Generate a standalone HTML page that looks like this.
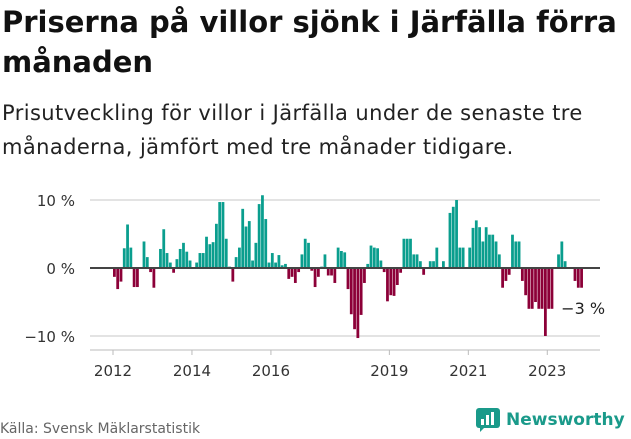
<!DOCTYPE html>
<html><head><meta charset="utf-8"><style>
body{margin:0;width:631px;height:439px;background:#fff;font-family:"Liberation Sans","DejaVu Sans",sans-serif;overflow:hidden;position:relative}
h1{position:absolute;left:2px;top:2px;margin:0;font-size:29px;line-height:40px;font-weight:bold;color:#111;width:629px;font-family:"DejaVu Sans","Liberation Sans",sans-serif;letter-spacing:0}
.sub{position:absolute;left:2px;top:96px;font-size:21px;line-height:34px;color:#222;width:629px;font-family:"DejaVu Sans","Liberation Sans",sans-serif;letter-spacing:0.4px}
.src{position:absolute;left:0;top:421px;font-size:14px;color:#666;font-family:"DejaVu Sans",sans-serif}
.logo{position:absolute;left:476px;top:408px;font-size:17px;font-weight:bold;color:#1a9a8a;font-family:"DejaVu Sans",sans-serif;display:flex;align-items:center;gap:6px}
</style></head><body>
<h1>Priserna på villor sjönk i Järfälla förra månaden</h1>
<div class="sub">Prisutveckling för villor i Järfälla under de senaste tre månaderna, jämfört med tre månader tidigare.</div>
<svg id="chart" width="631" height="439" style="position:absolute;left:0;top:0"></svg>
<div class="src">Källa: Svensk Mäklarstatistik</div>
<div class="logo"><svg width="24" height="24"><rect x="0" y="0" width="24" height="20" rx="3" fill="#1a9a8a"/><path d="M4 24 L4 18 L10 18 Z" fill="#1a9a8a"/><rect x="5" y="11" width="3" height="6" fill="#fff"/><rect x="10" y="7" width="3" height="10" fill="#fff"/><rect x="15" y="4" width="3" height="13" fill="#fff"/></svg><span>Newsworthy</span></div>
<script>
const values=[-1.3,-3.1,-2,2.9,6.4,3,-2.8,-2.8,0,3.9,1.6,-0.6,-2.9,0,2.8,5.7,2.2,0.8,-0.7,1.3,2.8,3.7,2.4,1.1,0,0.8,2.2,2.2,4.6,3.5,3.8,6.5,9.7,9.7,4.3,0.2,-2,1.6,3,8.7,6.1,6.9,1.1,3.7,9.4,10.7,7.2,0.8,2.2,0.8,1.9,0.4,0.6,-1.6,-1.3,-2.2,-0.6,2,4.3,3.7,-0.4,-2.8,-1.3,0.2,2,-1.1,-1.1,-2.2,3,2.5,2.3,-3.1,-6.8,-9,-10.3,-6.9,-2.2,0.6,3.3,3,2.9,1.1,-0.6,-4.9,-4,-4.1,-2.5,-0.7,4.3,4.3,4.3,2,2,1,-1,0,1,1,3,0,1,0,8.1,9,10,3,3,0,3,5.9,7,6,3.9,6,4.9,4.9,3.9,2,-2.9,-1.9,-1,4.9,3.9,3.9,-1.9,-4,-6,-6,-5,-6,-6,-10,-6,-6,0,2,3.9,1,0,0,-1.9,-2.9,-2.9];
const yTicks=[10,0,-10];
const yTickLabels=["10 %","0 %","−10 %"];
const xTickYears=[2012,2014,2016,2019,2021,2023];
const startYear=2012;
const lastLabel="−3 %";
const svg=document.getElementById('chart');
const NS="http://www.w3.org/2000/svg";
const x0=113,step=3.29,L=90,R=600;
const y=v=>268-v*6.8;
const x=i=>x0+i*step;
function mk(t,a){const e=document.createElementNS(NS,t);for(const k in a)e.setAttribute(k,a[k]);svg.appendChild(e);return e;}
yTicks.forEach((v,k)=>{
 if(v!==0){const g=mk('line',{x1:L,x2:R,y1:y(v),y2:y(v),stroke:'#e3e3e3','stroke-width':2});
 
 }
 const t=mk('text',{x:75,y:y(v)+6,'text-anchor':'end','font-size':15,fill:'#333','font-family':'DejaVu Sans, sans-serif'});
 t.textContent=yTickLabels[k];
 
 
});
const ax=mk('line',{x1:L,x2:R,y1:350,y2:350,stroke:'#ddd','stroke-width':2});


xTickYears.forEach(yr=>{
 const xi=x((yr-startYear)*12);
 const tk=mk('line',{x1:xi,x2:xi,y1:350,y2:355,stroke:'#bbb'});
 
 
 const t=mk('text',{x:xi,y:376,'text-anchor':'middle','font-size':15,fill:'#333','font-family':'DejaVu Sans, sans-serif'});
 t.textContent=yr;
 
 
});
values.forEach((v,i)=>{
 if(v===0)return;
 const b=mk('rect',{x:x(i),width:step-0.5,y:Math.min(y(v),y(0)),height:Math.abs(y(v)-y(0)),fill:v>0?'#0a9e8e':'#8c0038'});
 
 
});
const z=mk('line',{x1:L,x2:R,y1:y(0),y2:y(0),stroke:'#444','stroke-width':2});


const lt=mk('text',{x:x(values.length-1)-19,y:y(-6)+5,'font-size':16,fill:'#222','font-family':'DejaVu Sans, sans-serif'});
lt.textContent=lastLabel;


</script>
</body></html>
